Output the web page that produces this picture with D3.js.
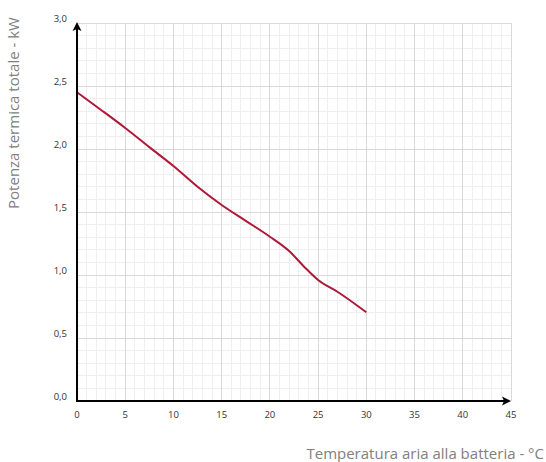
<!DOCTYPE html>
<html><head><meta charset="utf-8">
<script src="https://cdn.jsdelivr.net/npm/d3@7"></script>
<style>body{margin:0;background:#fff}svg{display:block}</style>
</head><body>
<script>
const temps = [0, 2.5, 5, 7.5, 10, 12.5, 15, 17.5, 20, 22, 23.5, 25, 27, 30];
const power = [2.45, 2.31, 2.167, 2.015, 1.865, 1.70, 1.556, 1.43, 1.304, 1.19, 1.07, 0.96, 0.867, 0.704];
const xTicks = [0, 5, 10, 15, 20, 25, 30, 35, 40, 45];
const yTicks = [0, 0.5, 1.0, 1.5, 2.0, 2.5, 3.0];
const xTitle = "Temperatura aria alla batteria - °C";
const yTitle = "Potenza termica totale - kW";

const W = 546, H = 462;
const svg = d3.select("body").append("svg").attr("width", W).attr("height", H);
const x = d3.scaleLinear().domain([0, 45]).range([77, 511]);
const y = d3.scaleLinear().domain([0, 3]).range([401, 23]);

const g = svg.append("g");
const minorX = d3.range(0, 45.01, 1), minorY = d3.range(0, 3.001, 0.1);
g.selectAll(".mx").data(minorX).join("line")
  .attr("x1", d => x(d)).attr("x2", d => x(d)).attr("y1", y(0)).attr("y2", y(3))
  .attr("stroke", "#efefef").attr("stroke-width", 1).attr("shape-rendering", "crispEdges");
g.selectAll(".my").data(minorY).join("line")
  .attr("y1", d => y(d)).attr("y2", d => y(d)).attr("x1", x(0)).attr("x2", x(45))
  .attr("stroke", "#efefef").attr("stroke-width", 1).attr("shape-rendering", "crispEdges");
g.selectAll(".Mx").data(xTicks).join("line")
  .attr("x1", d => x(d)).attr("x2", d => x(d)).attr("y1", y(0)).attr("y2", y(3))
  .attr("stroke", "#d9d9d9").attr("stroke-width", 1).attr("shape-rendering", "crispEdges");
g.selectAll(".My").data(yTicks).join("line")
  .attr("y1", d => y(d)).attr("y2", d => y(d)).attr("x1", x(0)).attr("x2", x(45))
  .attr("stroke", "#d9d9d9").attr("stroke-width", 1).attr("shape-rendering", "crispEdges");

const line = d3.line().x((d, i) => x(temps[i])).y(d => y(d)).curve(d3.curveMonotoneX);
svg.append("path").datum(power).attr("d", line)
  .attr("fill", "none").attr("stroke", "#b01839").attr("stroke-width", 2);

svg.append("line").attr("x1", x(0)).attr("x2", x(45) - 2).attr("y1", y(0)).attr("y2", y(0))
  .attr("stroke", "#000").attr("stroke-width", 2);
svg.append("line").attr("x1", x(0)).attr("x2", x(0)).attr("y1", y(0) + 1).attr("y2", y(3) + 2)
  .attr("stroke", "#000").attr("stroke-width", 2);
svg.append("path").attr("d", `M${x(45)},${y(0)} l-9,-4.5 l2,4.5 l-2,4.5 Z`).attr("fill", "#000");
svg.append("path").attr("d", `M${x(0)},${y(3) - 1} l-4.5,9 l4.5,-2 l4.5,2 Z`).attr("fill", "#000");

const fmt = d => d.toFixed(1).replace(".", ",");
svg.selectAll(".yl").data(yTicks).join("text")
  .attr("x", 67).attr("y", d => y(d) - 1).attr("text-anchor", "end")
  .attr("font-family", "Open Sans, sans-serif").attr("font-size", 9.5).attr("fill", "#333")
  .text(fmt);
svg.selectAll(".xl").data(xTicks).join("text")
  .attr("x", d => x(d)).attr("y", 418).attr("text-anchor", "middle")
  .attr("font-family", "Open Sans, sans-serif").attr("font-size", 9.5).attr("fill", "#333")
  .text(d => d);

svg.append("text").attr("x", 544).attr("y", 459).attr("text-anchor", "end")
  .attr("font-family", "Open Sans, sans-serif").attr("font-size", 15).attr("fill", "#808080")
  .text(xTitle);
svg.append("text").attr("transform", "translate(19,113) rotate(-90)").attr("text-anchor", "middle")
  .attr("font-family", "Open Sans, sans-serif").attr("font-size", 15).attr("fill", "#808080")
  .text(yTitle);
</script>
</body></html>
